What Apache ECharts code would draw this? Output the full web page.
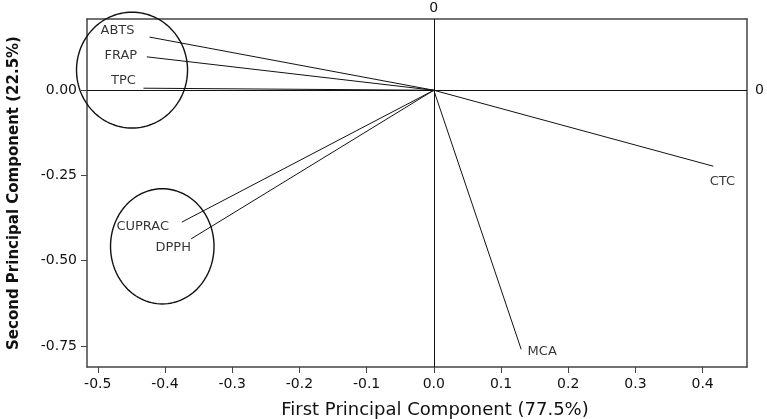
<!DOCTYPE html>
<html>
<head>
<meta charset="utf-8">
<script src="https://cdn.jsdelivr.net/npm/echarts@6/dist/echarts.min.js"></script>
<style>html,body{margin:0;padding:0;background:#fff}#c{width:767px;height:419px}</style>
</head>
<body>
<div id="c"></div>
<script>
// ---- data ----
var variables = ['ABTS', 'FRAP', 'TPC', 'CUPRAC', 'DPPH', 'CTC', 'MCA'];
var pc1 = [-0.423, -0.427, -0.432, -0.375, -0.361, 0.416, 0.130];
var pc2 = [0.156, 0.098, 0.006, -0.387, -0.436, -0.223, -0.760];
// ellipses: centre x, centre y, radius x, radius y
var ellipseCx = [-0.449, -0.404];
var ellipseCy = [0.059, -0.458];
var ellipseRx = [0.0826, 0.077];
var ellipseRy = [0.170, 0.169];
var xTicks = [-0.5, -0.4, -0.3, -0.2, -0.1, 0.0, 0.1, 0.2, 0.3, 0.4];
var yTicks = [-0.75, -0.5, -0.25, 0.0];
var xRange = [-0.516, 0.466];
var yRange = [-0.812, 0.209];

// label offsets (pixels, style only)
var labelOffsets = {
  ABTS: [-32, -6], FRAP: [-26, -1], TPC: [-20, -8], CUPRAC: [-39, 4],
  DPPH: [-18, 9], CTC: [9, 15], MCA: [21, 2]
};

var FONT = 'DejaVu Sans';
var chart = echarts.init(document.getElementById('c'));

var series = [];
variables.forEach(function (v, i) {
  series.push({
    type: 'line', name: v, data: [[0, 0], [pc1[i], pc2[i]]],
    symbol: 'none', silent: true, animation: false,
    lineStyle: { color: '#111', width: 1 }
  });
});
series.push({
  type: 'scatter', symbolSize: 0, silent: true, animation: false,
  data: variables.map(function (v, i) {
    return {
      value: [pc1[i], pc2[i]], name: v,
      label: { show: true, position: 'inside', offset: labelOffsets[v], formatter: v }
    };
  }),
  label: { fontFamily: FONT, fontSize: 13, color: '#000' }
});
series.push({
  type: 'custom', silent: true, animation: false,
  data: ellipseCx.map(function (cx, i) { return [cx, ellipseCy[i], ellipseRx[i], ellipseRy[i]]; }),
  renderItem: function (params, api) {
    var c = api.coord([api.value(0), api.value(1)]);
    var s = api.size([api.value(2), api.value(3)]);
    var pts = [];
    for (var k = 0; k < 120; k++) {
      var t = k / 120 * Math.PI * 2;
      pts.push([c[0] + s[0] * Math.cos(t), c[1] + s[1] * Math.sin(t)]);
    }
    return { type: 'polygon', shape: { points: pts }, style: { fill: 'none', stroke: '#111', lineWidth: 1.4 } };
  }
});
series.push({
  type: 'line', data: [], silent: true,
  markLine: {
    silent: true, symbol: 'none', animation: false, label: { show: false },
    lineStyle: { color: '#111', width: 1, type: 'solid' },
    data: [{ xAxis: 0 }, { yAxis: 0 }]
  }
});

var axisLineStyle = { show: true, onZero: false, lineStyle: { color: '#444', width: 1.5 } };

chart.setOption({
  animation: false,
  grid: { left: 87, right: 20, top: 19, bottom: 52, containLabel: false, outerBoundsMode: 'none' },
  xAxis: [{
    type: 'value', position: 'bottom', min: xRange[0], max: xRange[1],
    axisLine: axisLineStyle,
    axisTick: { show: true, length: 6, lineStyle: { color: '#444' }, customValues: xTicks },
    axisLabel: { customValues: xTicks, margin: 10, fontFamily: FONT, fontSize: 14, color: '#111',
      formatter: function (v) { return v.toFixed(1); } },
    splitLine: { show: false },
    name: 'First Principal Component (77.5%)', nameLocation: 'middle', nameGap: 34,
    nameTextStyle: { fontFamily: FONT, fontSize: 18, color: '#111', padding: [0, 0, 0, 36] }
  }, {
    type: 'value', position: 'top', min: xRange[0], max: xRange[1],
    axisLine: axisLineStyle, axisTick: { show: false },
    axisLabel: { customValues: [0], margin: 4, fontFamily: FONT, fontSize: 14, color: '#111',
      formatter: function () { return '0'; } },
    splitLine: { show: false }
  }],
  yAxis: [{
    type: 'value', position: 'left', min: yRange[0], max: yRange[1],
    axisLine: axisLineStyle,
    axisTick: { show: true, length: 6, lineStyle: { color: '#444' }, customValues: yTicks },
    axisLabel: { customValues: yTicks, margin: 10, fontFamily: FONT, fontSize: 14, color: '#111',
      formatter: function (v) { return v.toFixed(2); } },
    splitLine: { show: false },
    name: 'Second Principal Component (22.5%)', nameLocation: 'middle', nameGap: 65,
    nameTextStyle: { fontFamily: FONT, fontSize: 15, fontWeight: 'bold', color: '#111' }
  }, {
    type: 'value', position: 'right', min: yRange[0], max: yRange[1],
    axisLine: axisLineStyle, axisTick: { show: false },
    axisLabel: { customValues: [0], margin: 8, fontFamily: FONT, fontSize: 14, color: '#111',
      formatter: function () { return '0'; } },
    splitLine: { show: false }
  }],
  series: series
});
</script>
</body>
</html>
